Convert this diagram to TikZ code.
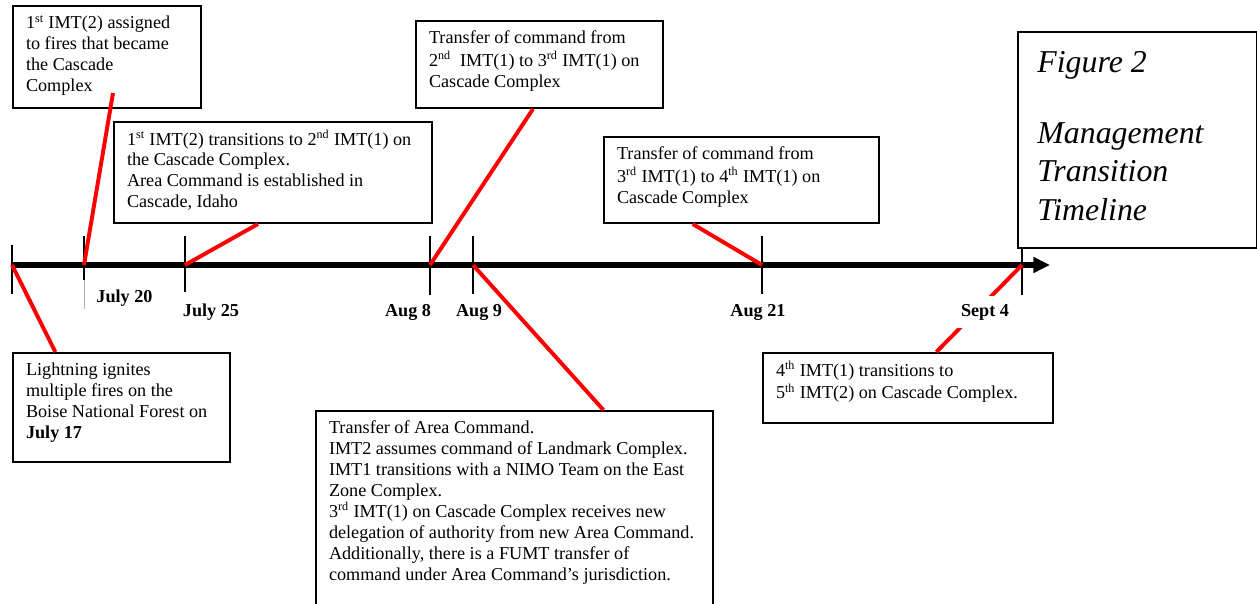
\documentclass[tikz,border=0pt]{standalone}
\usepackage{fontspec}
\setmainfont{Liberation Serif}
\usetikzlibrary{arrows.meta,calc}

\tikzset{
  evbox/.style={draw,line width=1.3pt,anchor=north west,inner xsep=8.6pt,inner ysep=5.3pt,
    font=\fontsize{12}{13.8}\selectfont},
  titlebox/.style={draw,line width=1pt,anchor=north west,inner xsep=13pt,inner ysep=9pt,
    font=\fontsize{21}{25.4}\selectfont\itshape},
  redlink/.style={red,line width=2.6pt},
  ticmark/.style={line width=0.9pt},
  datelabel/.style={font=\fontsize{12}{13.8}\selectfont\bfseries,inner sep=1pt}
}
\newcommand{\boxtext}[3]{\parbox[c][#2][t]{#1}{\raggedright\strut #3}}

\begin{document}
\begin{tikzpicture}[x=0.66pt,y=-0.66pt]
        \clip (0,0) rectangle (1257,604);
        % ticks on the timeline
        \foreach \name/\x/\top/\bot in {t17/12/245/294,t20/84/236/280,t25/185/236/292,
            t8/430/236/295,t9/473/236/294,t21/762/236/294,t4/1022/247/295}{
            \coordinate (\name) at (\x,265);
            \draw[ticmark] (\x,\top) -- (\x,\bot);
        }
        \draw[gray!60,line width=0.6pt] (84,280) -- (84,309);
        \coordinate (axisend) at (1050,265);
        \draw[line width=4pt,-{Triangle[length=11pt,width=10pt]}] (t17) -- (axisend);

        % event boxes
        \node[evbox] (lightbox) at (12,352) {\boxtext{126pt}{61.3pt}{Lightning ignites\\
            multiple fires on the\\ Boise National Forest on\\ \textbf{July 17}}};
        \node[evbox] (assignbox) at (12,5) {\boxtext{106.9pt}{56.7pt}{1\textsuperscript{st} IMT(2) assigned\\
            to fires that became\\ the Cascade\\ Complex}};
        \node[evbox] (estabbox) at (113,121) {\boxtext{192.7pt}{56.1pt}{1\textsuperscript{st} IMT(2) transitions to 2\textsuperscript{nd} IMT(1) on\\
            the Cascade Complex.\\ Area Command is established in\\ Cascade, Idaho}};
        \node[evbox] (cmd23box) at (415,20) {\boxtext{145.8pt}{46.8pt}{Transfer of command from\\
            2\textsuperscript{nd}\ \ IMT(1) to 3\textsuperscript{rd} IMT(1) on\\ Cascade Complex}};
        \node[evbox] (cmd34box) at (603,136) {\boxtext{164.3pt}{46.2pt}{Transfer of command from\\
            3\textsuperscript{rd} IMT(1) to 4\textsuperscript{th} IMT(1) on\\ Cascade Complex}};
        \node[evbox] (areabox) at (315,410) {\boxtext{244.8pt}{150pt}{Transfer of Area Command.\\
            IMT2 assumes command of Landmark Complex.\\
            IMT1 transitions with a NIMO Team on the East\\
            Zone Complex.\\
            3\textsuperscript{rd} IMT(1) on Cascade Complex receives new\\
            delegation of authority from new Area Command.\\
            Additionally, there is a FUMT transfer of\\
            command under Area Command’s jurisdiction.}};
        \node[evbox] (nextbox) at (762,352) {\boxtext{174.2pt}{35.6pt}{4\textsuperscript{th} IMT(1) transitions to\\
            5\textsuperscript{th} IMT(2) on Cascade Complex.}};
        \node[titlebox] (figtitle) at (1017,31) {\boxtext{131.7pt}{124.6pt}{Figure 2\\[21.5pt]
            Management\\ Transition\\ Timeline}};

        % red leaders
        \coordinate (assignend) at (113,93);
        \draw[redlink] (t17) -- ($(lightbox.north west)!0.198!(lightbox.north east)$);
        \draw[redlink] (t20) -- (assignend);
        \draw[redlink] (t25) -- ($(estabbox.south west)!0.453!(estabbox.south east)$);
        \draw[redlink] (t8) -- ($(cmd23box.south west)!0.474!(cmd23box.south east)$);
        \draw[redlink] (t9) -- ($(areabox.north west)!0.723!(areabox.north east)$);
        \draw[redlink] (t21) -- ($(cmd34box.south west)!0.324!(cmd34box.south east)$);
        \draw[redlink] (t4) -- ($(nextbox.north west)!0.597!(nextbox.north east)$);

        % dates
        \node[datelabel] (d20) at (124.5,298) {July 20};
        \node[datelabel] (d25) at (211,312) {July 25};
        \node[datelabel] (d8) at (408,312) {Aug 8};
        \node[datelabel] (d9) at (479,312) {Aug 9};
        \node[datelabel] (d21) at (758,312) {Aug 21};
        \node[datelabel,fill=white,minimum width=46pt,minimum height=20.5pt] (d4) at (985,312) {Sept 4};
\end{tikzpicture}
\end{document}
